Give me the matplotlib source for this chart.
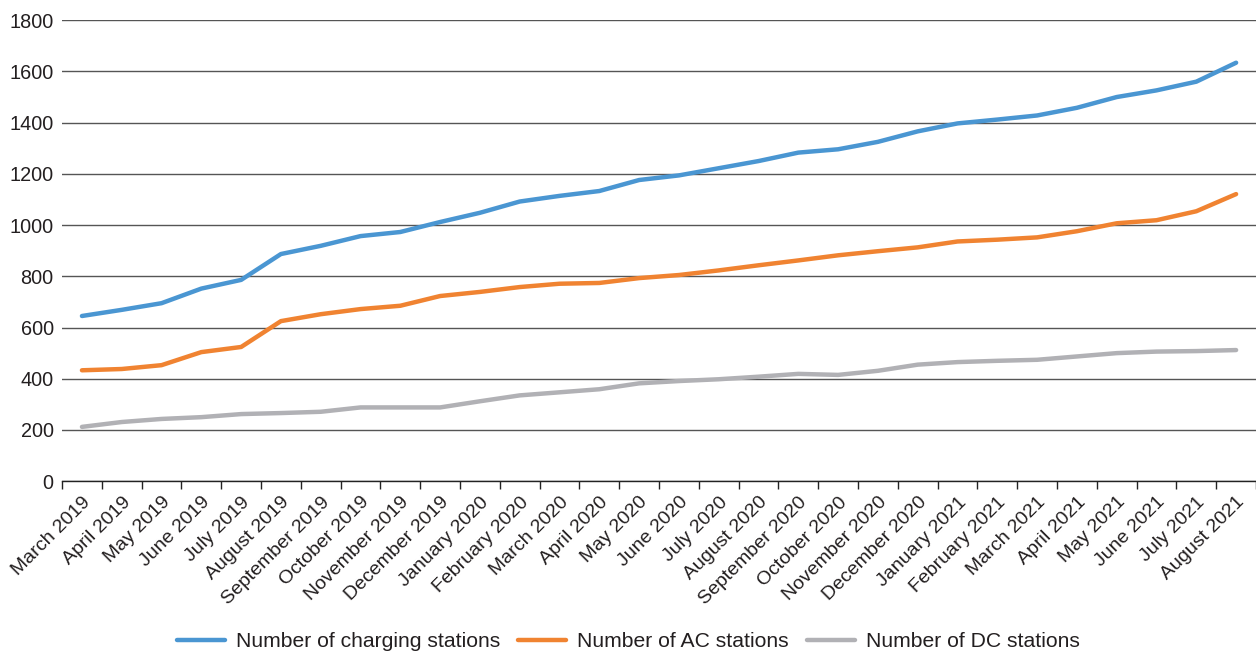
import matplotlib
matplotlib.use("Agg")
import matplotlib.pyplot as plt
import numpy as np

plt.rcParams["font.family"] = ["Liberation Sans", "DejaVu Sans"]
plt.rcParams["text.color"] = "#231f20"
plt.rcParams["xtick.color"] = "#231f20"
plt.rcParams["ytick.color"] = "#231f20"

months = [
    "March 2019", "April 2019", "May 2019", "June 2019", "July 2019",
    "August 2019", "September 2019", "October 2019", "November 2019",
    "December 2019", "January 2020", "February 2020", "March 2020",
    "April 2020", "May 2020", "June 2020", "July 2020", "August 2020",
    "September 2020", "October 2020", "November 2020", "December 2020",
    "January 2021", "February 2021", "March 2021", "April 2021", "May 2021",
    "June 2021", "July 2021", "August 2021",
]

charging_stations = [
    645, 669, 695, 752, 786, 887, 919, 957, 973, 1012,
    1048, 1092, 1114, 1133, 1176, 1194, 1222, 1250, 1283, 1296,
    1325, 1366, 1397, 1412, 1428, 1458, 1500, 1526, 1560, 1634,
]
ac_stations = [
    433, 438, 453, 504, 524, 625, 652, 672, 685, 723,
    739, 758, 771, 774, 793, 805, 823, 843, 862, 882,
    898, 913, 936, 943, 952, 976, 1007, 1019, 1054, 1121,
]
dc_stations = [
    212, 231, 243, 250, 262, 266, 271, 288, 288, 288,
    312, 335, 347, 359, 382, 391, 398, 408, 419, 415,
    431, 455, 465, 470, 474, 487, 500, 506, 508, 512,
]

series = [
    ("Number of charging stations", charging_stations, "#4a96d2"),
    ("Number of AC stations", ac_stations, "#f08331"),
    ("Number of DC stations", dc_stations, "#b1b1b5"),
]

fig = plt.figure(figsize=(12.56, 6.52), dpi=100)
ax = fig.add_axes([0.0494, 0.262, 0.9506, 0.707])

x = np.arange(len(months))
for label, values, color in series:
    ax.plot(x, values, color=color, linewidth=3.2, label=label,
            solid_capstyle="round", solid_joinstyle="round", zorder=3)

# y axis and grid
ax.set_ylim(0, 1800)
ax.set_yticks(range(0, 1801, 200))
ax.yaxis.grid(True, color="#555555", linewidth=1.0)
ax.set_axisbelow(True)
ax.tick_params(axis="y", length=0, labelsize=14.3, pad=6)

# x axis: labels at category centres, tick marks between categories
ax.set_xlim(-0.5, len(months) - 0.5)
ax.set_xticks(x)
ax.set_xticklabels(months, rotation=45, ha="right", rotation_mode="anchor")
ax.set_xticks(np.arange(-0.5, len(months)), minor=True)
ax.tick_params(axis="x", which="major", length=0, labelsize=14, pad=9)
ax.tick_params(axis="x", which="minor", length=6, width=1, color="#222222")

for side in ["left", "right", "top"]:
    ax.spines[side].set_visible(False)
ax.spines["bottom"].set_color("#222222")
ax.spines["bottom"].set_linewidth(1.0)

fig.legend(loc="lower center", bbox_to_anchor=(0.5, -0.028), ncol=3,
           frameon=False, fontsize=15.2, handlelength=2.3, columnspacing=0.85,
           handletextpad=0.5)

fig.savefig("out.png", dpi=100)
